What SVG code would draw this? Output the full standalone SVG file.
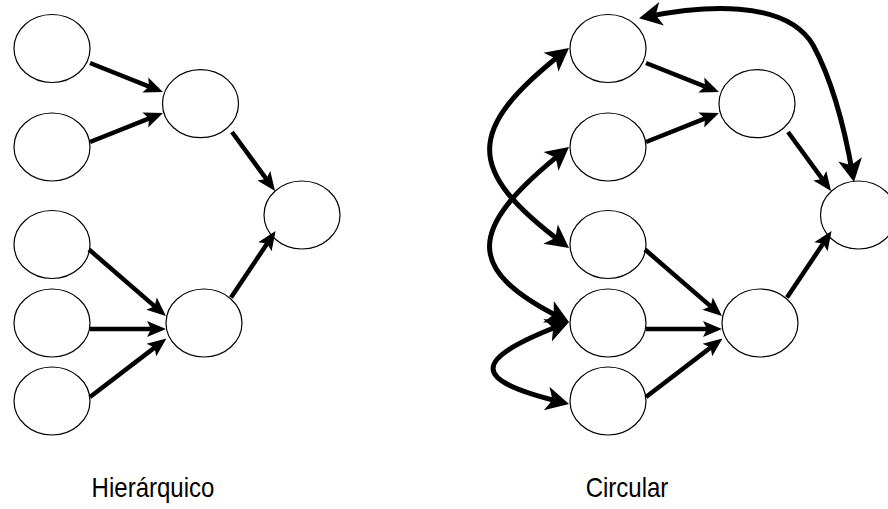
<svg xmlns="http://www.w3.org/2000/svg" width="888" height="509" viewBox="0 0 888 509">
  <defs>
    <style>
      .node { fill: #ffffff; stroke: #000000; stroke-width: 1.2; }
      .edge { fill: none; stroke: #000000; stroke-width: 4.5; stroke-linecap: butt; marker-end: url(#arr); }
      .loop { fill: none; stroke: #000000; stroke-width: 5; stroke-linecap: butt; marker-start: url(#arrB); marker-end: url(#arrB); }
      .label { font-family: "Liberation Sans", Arial, sans-serif; font-size: 27px; fill: #000000; text-anchor: middle; }
    </style>
    <!-- notched arrowhead for straight edges -->
    <marker id="arr" viewBox="-15 -9 22 18" refX="0" refY="0" markerWidth="22" markerHeight="18" markerUnits="userSpaceOnUse" orient="auto" overflow="visible">
      <path d="M6,0 L-13,-8 L-9,0 L-13,8 Z" fill="#000"/>
    </marker>
    <!-- larger arrowhead for the curved, two-way edges -->
    <marker id="arrB" viewBox="-18 -13 26 26" refX="0" refY="0" markerWidth="26" markerHeight="26" markerUnits="userSpaceOnUse" orient="auto-start-reverse" overflow="visible">
      <path d="M7,0 L-16,-12 L-10,0 L-16,12 Z" fill="#000"/>
    </marker>
  </defs>

  <!-- Hierarchical layout -->
  <g id="h-a1"><ellipse class="node" cx="52" cy="48.5" rx="38" ry="34"/></g>
  <g id="h-a2"><ellipse class="node" cx="52" cy="147" rx="38" ry="34"/></g>
  <g id="h-a3"><ellipse class="node" cx="52" cy="244.5" rx="38" ry="34"/></g>
  <g id="h-a4"><ellipse class="node" cx="52" cy="323" rx="38" ry="34"/></g>
  <g id="h-a5"><ellipse class="node" cx="52" cy="401" rx="38" ry="34"/></g>
  <g id="h-b1"><ellipse class="node" cx="200.5" cy="103.7" rx="38" ry="34"/></g>
  <g id="h-b2"><ellipse class="node" cx="204" cy="323" rx="38" ry="34"/></g>
  <g id="h-c"><ellipse class="node" cx="302" cy="215" rx="38" ry="34"/></g>

  <!-- Circular layout -->
  <g id="c-a1"><ellipse class="node" cx="608" cy="48.5" rx="38" ry="34"/></g>
  <g id="c-a2"><ellipse class="node" cx="608" cy="147" rx="38" ry="34"/></g>
  <g id="c-a3"><ellipse class="node" cx="608" cy="244.5" rx="38" ry="34"/></g>
  <g id="c-a4"><ellipse class="node" cx="608" cy="323" rx="38" ry="34"/></g>
  <g id="c-a5"><ellipse class="node" cx="608" cy="401" rx="38" ry="34"/></g>
  <g id="c-b1"><ellipse class="node" cx="757" cy="103.7" rx="38" ry="34"/></g>
  <g id="c-b2"><ellipse class="node" cx="760" cy="323" rx="38" ry="34"/></g>
  <g id="c-c"><ellipse class="node" cx="858.5" cy="215" rx="38" ry="34"/></g>

  <g id="connectors">
    <!-- hierarchical -->
    <path class="edge" d="M90,63 L157.4,89.8"/>
    <path class="edge" d="M90,142 L157.4,115.2"/>
    <path class="edge" d="M232,132 L271.5,186.2"/>
    <path class="edge" d="M89,249.5 L161.4,312.1"/>
    <path class="edge" d="M90,329 L160,329"/>
    <path class="edge" d="M90,397 L161.7,342.1"/>
    <path class="edge" d="M231,297.5 L272.2,236"/>

    <!-- circular: straight part -->
    <path class="edge" d="M646,63 L713.4,89.8"/>
    <path class="edge" d="M646,142 L713.4,115.2"/>
    <path class="edge" d="M788,132 L827.5,186.2"/>
    <path class="edge" d="M645,249.5 L717.4,312.1"/>
    <path class="edge" d="M646,329 L716,329"/>
    <path class="edge" d="M646,397 L717.7,342.1"/>
    <path class="edge" d="M787,297.5 L828.2,236"/>

    <!-- circular: curved two-way links -->
    <path class="loop" d="M563.5,52.3 C465,130 465,170 563.4,243.8"/>
    <path class="loop" d="M563.5,151.4 C465,230 465,270 562.7,318.9"/>
    <path class="loop" d="M562.5,324.5 C470,360 470,380 562.2,402.3"/>
    <path class="loop" d="M645.9,16.9 C700,6 785,-2 813,45 C832,80 845,130 852.8,175.1"/>
  </g>

  <text class="label" transform="translate(153,497) scale(0.89,1)">Hierárquico</text>
  <text class="label" transform="translate(627,497) scale(0.89,1)">Circular</text>
</svg>
